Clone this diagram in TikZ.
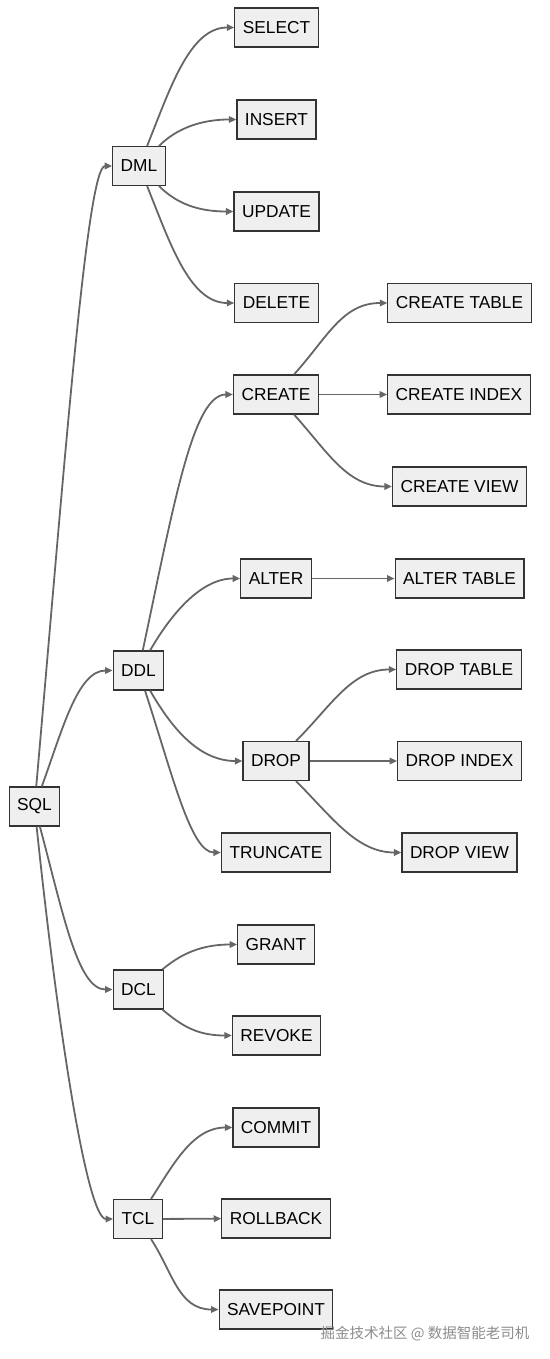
\documentclass[tikz,border=0pt]{standalone}
\usepackage{fontspec}
\setmainfont{Liberation Sans}
\newfontfamily\cjk{Noto Sans CJK SC}
\usepackage{tikz}
\usetikzlibrary{arrows.meta}
\definecolor{boxfill}{HTML}{EFEFEF}
\definecolor{boxline}{HTML}{333333}
\definecolor{linkgray}{HTML}{666666}
\tikzset{
  box/.style={draw=boxline, fill=boxfill, line width=1.2pt, minimum height=39pt,
    inner xsep=8pt, font=\fontsize{17.3}{20}\selectfont},
  link/.style={draw=linkgray, line width=1.8pt, -{Triangle[length=7.5pt,width=6.5pt]}},
}
\begin{document}
\begin{tikzpicture}[x=1pt,y=1pt]
                \useasboundingbox (0,0) rectangle (549,-1359);
                % root and groups
                \node [box] (sql) at (34.5,-806.5) {SQL};
                \node [box] (dml) at (139,-166) {DML};
                \node [box] (ddl) at (138.5,-670.5) {DDL};
                \node [box] (dcl) at (138.5,-989.5) {DCL};
                \node [box] (tcl) at (138,-1219) {TCL};
                % statements
                \node [box] (select) at (276.5,-27.5) {SELECT};
                \node [box] (insert) at (276.5,-119.5) {INSERT};
                \node [box] (update) at (276.5,-211.5) {UPDATE};
                \node [box] (delete) at (276.5,-303) {DELETE};
                \node [box] (create) at (276,-394.5) {CREATE};
                \node [box] (alter) at (276,-578.5) {ALTER};
                \node [box] (drop) at (276,-761) {DROP};
                \node [box] (truncate) at (276,-852.5) {TRUNCATE};
                \node [box] (grant) at (276,-944.5) {GRANT};
                \node [box] (revoke) at (276.5,-1035.5) {REVOKE};
                \node [box] (commit) at (276,-1127.5) {COMMIT};
                \node [box] (rollback) at (276,-1218.5) {ROLLBACK};
                \node [box] (savepoint) at (276,-1309.5) {SAVEPOINT};
                % objects
                \node [box] (ctable) at (459.5,-303) {CREATE TABLE};
                \node [box] (cindex) at (459,-394.5) {CREATE INDEX};
                \node [box] (cview) at (459.5,-486.5) {CREATE VIEW};
                \node [box] (atable) at (459.5,-578.5) {ALTER TABLE};
                \node [box] (dtable) at (459,-669.5) {DROP TABLE};
                \node [box] (dindex) at (459.5,-761) {DROP INDEX};
                \node [box] (dview) at (459.5,-852.5) {DROP VIEW};
                % SQL to groups
                \draw [link] (sql) to [out=85,in=180,out distance=330pt,in distance=25pt] (dml.west);
                \draw [link] (sql) to [out=70,in=180,out distance=60pt,in distance=35pt] (ddl.west);
                \draw [link] (sql) to [out=-75,in=180,out distance=90pt,in distance=35pt] (dcl.west);
                \draw [link] (sql) to [out=-84,in=180,out distance=220pt,in distance=25pt] (tcl.west);
                % DML
                \draw [link] (dml) to [out=68,in=180,out distance=60pt,in distance=45pt] (select.west);
                \draw [link] (dml) to [out=45,in=180,out distance=25pt,in distance=35pt] (insert.west);
                \draw [link] (dml) to [out=-45,in=180,out distance=25pt,in distance=35pt] (update.west);
                \draw [link] (dml) to [out=-68,in=180,out distance=60pt,in distance=45pt] (delete.west);
                % DDL
                \draw [link] (ddl) to [out=78,in=180,out distance=150pt,in distance=40pt] (create.west);
                \draw [link] (ddl) to [out=60,in=180,out distance=40pt,in distance=40pt] (alter.west);
                \draw [link] (ddl) to [out=-60,in=180,out distance=40pt,in distance=45pt] (drop.west);
                \draw [link] (ddl) to [out=-72,in=180,out distance=90pt,in distance=30pt] (truncate.west);
                \draw [link] (create) to [out=48,in=180,out distance=50pt,in distance=45pt] (ctable.west);
                \draw [link] (create) -- (cindex);
                \draw [link] (create) to [out=-48,in=180,out distance=50pt,in distance=45pt] (cview.west);
                \draw [link] (alter) -- (atable);
                \draw [link] (drop) to [out=45,in=180,out distance=50pt,in distance=45pt] (dtable.west);
                \draw [link] (drop) -- (dindex);
                \draw [link] (drop) to [out=-45,in=180,out distance=50pt,in distance=45pt] (dview.west);
                % DCL and TCL
                \draw [link] (dcl) to [out=40,in=180,out distance=25pt,in distance=35pt] (grant.west);
                \draw [link] (dcl) to [out=-40,in=180,out distance=25pt,in distance=35pt] (revoke.west);
                \draw [link] (tcl) to [out=57,in=180,out distance=40pt,in distance=40pt] (commit.west);
                \draw [link] (tcl) -- (rollback);
                \draw [link] (tcl) to [out=-57,in=180,out distance=40pt,in distance=40pt] (savepoint.west);
                % watermark
                \node [font=\cjk\fontsize{14.5}{16}\selectfont, text=black!45] (mark) at (425,-1334) {掘金技术社区 @ 数据智能老司机};
\end{tikzpicture}
\end{document}
